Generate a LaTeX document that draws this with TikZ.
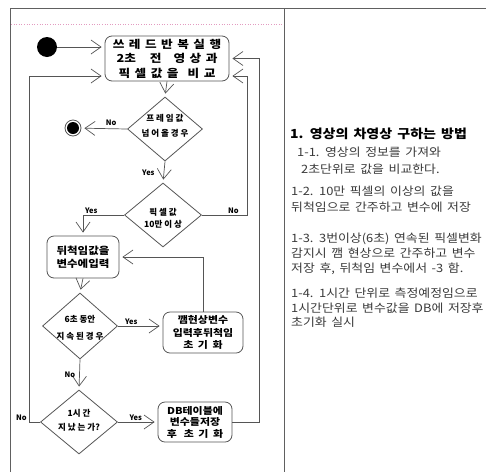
\documentclass[tikz,border=0pt]{standalone}
\usepackage{fontspec}
\setmainfont{Noto Sans CJK KR}
\newfontfamily\krd{Noto Sans CJK KR}
\newfontfamily\krw[FakeStretch=1.15]{Noto Sans CJK KR}
\newfontfamily\krt[WordSpace=1.6,FakeStretch=1.12]{Noto Sans CJK KR}
\newfontfamily\krh[WordSpace=1.6,FakeStretch=1.12]{Noto Sans CJK KR}
\newcommand\hs{\hspace{4.5pt}}
\usetikzlibrary{shapes.geometric,arrows.meta}
\definecolor{ln}{HTML}{555555}
\definecolor{fr}{HTML}{606060}
\definecolor{tx}{HTML}{3A3A3A}
\definecolor{pinkdot}{HTML}{E39BC0}
\begin{document}
\begin{tikzpicture}[x=1pt,y=-1pt,
  flow/.style={draw=ln, line width=0.7pt},
  arr/.style={flow, -{Straight Barb[length=10pt,width=14pt,line width=0.7pt]}, shorten >=3pt},
  box/.style={draw=ln, line width=0.8pt, rounded corners=7pt, align=center, inner sep=0pt, font=\krw\bfseries\fontsize{10}{13}\selectfont},
  dia/.style={draw=ln, line width=0.8pt, diamond, inner sep=0pt},
  dtext/.style={align=center, inner sep=0pt, font=\krd\bfseries\fontsize{8.5}{15}\selectfont},
  lab/.style={inner sep=1pt, font=\krd\bfseries\fontsize{7.5}{8}\selectfont},
  rt/.style={anchor=base west, inner sep=0pt, text=tx, font=\krt\fontsize{11.5}{14}\selectfont},
  rth/.style={anchor=base west, inner sep=0pt, text=black, font=\krh\bfseries\fontsize{12.5}{14}\selectfont}
]
\useasboundingbox (0,0) rectangle (486,472);
\fill[white] (0,0) rectangle (486,472);
% frame
\draw[fr, line width=1pt] (10,472) -- (10,8) -- (486,8);
\draw[fr, line width=1pt] (284,8) -- (284,472);
\draw[pinkdot, dotted, line width=0.6pt] (11,24) -- (283,24);

% helper coordinates for connector routes
\coordinate (r1) at (247,0);
\coordinate (r2) at (259,0);
\coordinate (l1) at (29,0);

% nodes
\node[circle, fill=black, minimum size=20pt, inner sep=0pt] (s) at (47,47) {};
\node[box, minimum width=124pt, minimum height=45pt, font=\krw\bfseries\fontsize{11}{14.5}\selectfont] (b1) at (167,58.5)
  {쓰\hs 레\hs 드\hs 반\hs 복\hs 실\hs 행\\2초\hspace{14pt}전\hspace{12pt}영\hs 상\hs 과\\픽\hs 셀\hs 값\hs 을\hspace{9pt}비\hs 교};
\node[dia, minimum width=75pt, minimum height=64pt] (d1) at (165,129) {};
\node[dtext] (t1) at (165,126) {프 레 임 값\\넘 어 올 경 우};
\node[circle, draw=ln, line width=0.8pt, minimum size=16pt, inner sep=0pt] (e) at (73,128) {};
\node[circle, fill=black, minimum size=12pt, inner sep=0pt] (ei) at (e) {};
\node[dia, minimum width=77pt, minimum height=64pt] (d2) at (163,215) {};
\node[dtext, font=\krd\bfseries\fontsize{8.5}{12}\selectfont] (t2) at (163,218) {픽 셀 값\\10만 이 상};
\node[box, minimum width=72pt, minimum height=42pt] (b3) at (83,257) {뒤척임값을\\변수에입력};
\node[dia, minimum width=75pt, minimum height=66pt] (d3) at (80,326) {};
\node[dtext, font=\krd\bfseries\fontsize{8.5}{17}\selectfont] (t3) at (80,328) {6초 동안\\지 속 된 경 우};
\node[box, minimum width=80pt, minimum height=41pt, font=\krw\bfseries\fontsize{9.5}{12.5}\selectfont] (b4) at (203,332.5) {깸현상변수\\입력후뒤척임\\초\hs 기\hs 화};
\node[dia, minimum width=77pt, minimum height=64pt] (d4) at (79,422) {};
\node[dtext, font=\krd\bfseries\fontsize{8.5}{14}\selectfont] (t4) at (79,420) {1시 간\\지 났 는 가?};
\node[box, minimum width=74pt, minimum height=40pt, font=\krw\bfseries\fontsize{9.5}{11.5}\selectfont] (b5) at (195,422) {DB테이블에\\변수들저장\\후\hspace{7pt}초\hs 기\hs 화};

% connectors
\draw[arr] (s) -- (s -| b1.west);
\draw[arr] (b1.south) -- (d1.north);
\draw[arr] (d1.west) -- node[lab, above, pos=0.35, yshift=2pt]{No} (e);
\draw[arr] (d1.south) -- node[lab, pos=0.55, left=8pt]{Yes} (d2.north);
\draw[arr] (d2.east) -- node[lab, above, pos=0.7]{No} (d2.east -| r1) |- ([yshift=-17.5pt]b1.east);
\draw[arr] (d2.west) -| node[lab, pos=0.4, above]{Yes} (b3.north);
\draw[arr] (b3.south) -- (d3.north);
\draw[arr] (d3.east) -- node[lab, pos=0.3, above]{Yes} (d3.east -| b4.west);
\draw[arr] (b4.north) |- (b3.east);
\draw[arr] (d3.south) -- node[lab, pos=0.5, left=3pt]{No} (d4.north);
\draw[arr] (d4.west) -- (d4.west -| l1) node[lab, anchor=south east, xshift=-1pt]{No} |- ([yshift=-17.5pt]b1.west);
\draw[arr] (d4.east) -- node[lab, pos=0.45, above]{Yes} (d4.east -| b5.west);
\draw[arr] (b5.east) -- (b5.east -| r2) |- (b1.east);

% right column text
\node[rth] (h) at (290,138) {1. 영상의 차영상 구하는 방법};
\node[rt] (p1a) at (297,156.5) {1-1. 영상의 정보를 가져와};
\node[rt] (p1b) at (301,173.5) {2초단위로 값을 비교한다.};
\node[rt] (p2a) at (291,195.5) {1-2. 10만 픽셀의 이상의 값을};
\node[rt] (p2b) at (291,211.5) {뒤척임으로 간주하고 변수에 저장};
\node[rt] (p3a) at (291,242.5) {1-3. 3번이상(6초) 연속된 픽셀변화};
\node[rt] (p3b) at (291,257.5) {감지시 깸 현상으로 간주하고 변수};
\node[rt] (p3c) at (291,272) {저장 후, 뒤척임 변수에서 -3 함.};
\node[rt] (p4a) at (291,297.5) {1-4. 1시간 단위로 측정예정임으로};
\node[rt] (p4b) at (291,312) {1시간단위로 변수값을 DB에 저장후};
\node[rt] (p4c) at (291,326) {초기화 실시};
\end{tikzpicture}
\end{document}
